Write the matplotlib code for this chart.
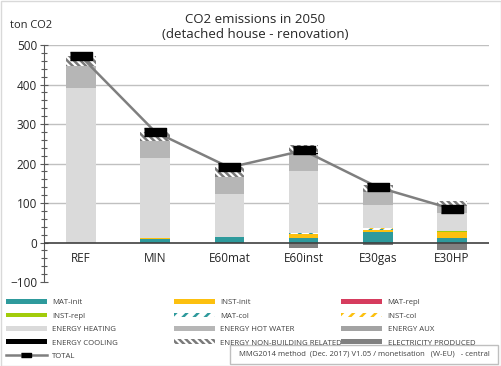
import matplotlib
matplotlib.use('Agg')
import matplotlib.pyplot as plt
import matplotlib.patches as pts
from matplotlib.lines import Line2D
import numpy as np

plt.rcParams['font.family'] = ['Open Sans', 'DejaVu Sans']
plt.rcParams['hatch.linewidth'] = 1.8

categories = ['REF', 'MIN', 'E60mat', 'E60inst', 'E30gas', 'E30HP']

# ton CO2 per component
mat_init = [0, 9, 13, 11, 27, 11]
inst_init = [0, 3, 0, 10, 5, 15]
mat_repl = [0, 0, 0, 0, 0, 0]
inst_repl = [0, 0, 2, 0, 0, 4]
mat_col = [0, 0, 0, 2, 2, 0]
inst_col = [0, 0, 0, 0, 3, 0]
energy_heating = [392, 202, 108, 157, 58, 44]
energy_hot_water = [55, 42, 43, 45, 32, 18]
energy_aux = [0, 0, 0, 0, 0, 0]
energy_cooling = [0, 0, 0, 2, 2, 0]
energy_non_building = [24, 24, 24, 20, 17, 12]
electricity_produced = [0, 0, 0, -14, -6, -19]

yticks = [-100, 0, 100, 200, 300, 400, 500]

# name, values, face, hatch, hatch colour
series = [
    ('MAT-init', mat_init, '#2e9a9c', None, None),
    ('INST-init', inst_init, '#fcc00f', None, None),
    ('MAT-repl', mat_repl, '#d63c5e', None, None),
    ('INST-repl', inst_repl, '#a2cc0a', None, None),
    ('MAT-col', mat_col, 'white', '///', '#2e9a9c'),
    ('INST-col', inst_col, 'white', '///', '#fcc00f'),
    ('ENERGY HEATING', energy_heating, '#dadada', None, None),
    ('ENERGY HOT WATER', energy_hot_water, '#b6b6b6', None, None),
    ('ENERGY AUX', energy_aux, '#a3a3a3', None, None),
    ('ENERGY COOLING', energy_cooling, 'black', None, None),
    ('ENERGY NON-BUILDING RELATED', energy_non_building, 'white', '\\\\\\\\\\', '#7a7a7a'),
]
elec = ('ELECTRICITY PRODUCED', electricity_produced, '#808080', None, None)

fig = plt.figure(figsize=(5.02, 3.66), dpi=100)
ax = fig.add_axes([0.0876, 0.2295, 0.8865, 0.6475])

x = np.arange(len(categories))
w = 0.4
bottom = np.zeros(len(categories))
handles = {}
for name, vals, fc, hatch, hc in series:
    vals = np.array(vals, dtype=float)
    ax.bar(x, vals, w, bottom=bottom, color=fc, hatch=hatch,
           edgecolor=hc if hc else fc, linewidth=0, zorder=3)
    bottom += vals
    handles[name] = pts.Patch(facecolor=fc, hatch=hatch, edgecolor=hc if hc else fc, linewidth=0)
ax.bar(x, electricity_produced, w, color=elec[2], linewidth=0, zorder=3)
handles[elec[0]] = pts.Patch(facecolor=elec[2], linewidth=0)

# total = all parts incl. negative production
total = bottom + np.array(electricity_produced)
mk = [(-1, -0.36), (1, -0.36), (1, 0.36), (-1, 0.36)]
ax.plot(x, total, color='#7f7f7f', lw=1.8, zorder=4)
ax.plot(x, total, ls='none', marker=mk, ms=16, mfc='black', mec='black', zorder=5)
handles['TOTAL'] = Line2D([], [], color='#7f7f7f', lw=1.8, marker=mk, ms=7, mfc='black', mec='black')

ax.set_xlim(-0.5, len(categories) - 0.5)
ax.set_ylim(-100, 500)
ax.set_yticks(yticks)
ax.set_yticks(np.arange(-100, 501, 20), minor=True)
ax.tick_params(axis='y', which='major', direction='inout', length=6, width=0.8,
               color='#595959', labelsize=8.5, labelcolor='#262626', pad=2)
ax.tick_params(axis='y', which='minor', direction='inout', length=4, width=0.8, color='#595959')
ax.set_xticks([])
for s in ['top', 'right', 'bottom']:
    ax.spines[s].set_visible(False)
ax.spines['left'].set_color('#595959')
for t in yticks:
    if t > 0:
        ax.axhline(t, color='#c0c0c0', lw=1, zorder=1)
ax.axhline(0, color='#404040', lw=1.2, zorder=4)

for i, c in enumerate(categories):
    ax.annotate(c, (i, 0), xytext=(0, -7), textcoords='offset points',
                ha='center', va='top', fontsize=8.5, color='#262626')

fig.text(0.508, 0.965, 'CO2 emissions in 2050\n(detached house - renovation)',
         ha='center', va='top', fontsize=9.5, color='#262626', linespacing=1.25)
fig.text(0.02, 0.93, 'ton CO2', ha='left', va='center', fontsize=8, color='#262626')

# legend in three columns, row-major like the original
cols = [
    ['MAT-init', 'INST-repl', 'ENERGY HEATING', 'ENERGY COOLING', 'TOTAL'],
    ['INST-init', 'MAT-col', 'ENERGY HOT WATER', 'ENERGY NON-BUILDING RELATED'],
    ['MAT-repl', 'INST-col', 'ENERGY AUX', 'ELECTRICITY PRODUCED'],
]
col_x = [0.008, 0.343, 0.676]
for cx, names in zip(col_x, cols):
    leg = fig.legend([handles[n] for n in names], names, loc='upper left',
                     bbox_to_anchor=(cx, 0.187), frameon=False, fontsize=5.6,
                     handlelength=5.3, handleheight=0.6, handletextpad=0.7,
                     labelspacing=0.8, numpoints=1, borderaxespad=0, borderpad=0.2)
    for t in leg.get_texts():
        t.set_color('#404040')

fig.add_artist(pts.Rectangle((0.458, 0.006), 0.534, 0.052, transform=fig.transFigure,
                             facecolor='white', edgecolor='#bfbfbf', lw=1))
fig.text(0.725, 0.032, 'MMG2014 method  (Dec. 2017) V1.05 / monetisation   (W-EU)   - central',
         ha='center', va='center', fontsize=5.5, color='#404040')
fig.add_artist(pts.Rectangle((0.001, 0.001), 0.997, 0.996, transform=fig.transFigure,
                             facecolor='none', edgecolor='#d9d9d9', lw=1))

fig.savefig('out.png', dpi=100)
